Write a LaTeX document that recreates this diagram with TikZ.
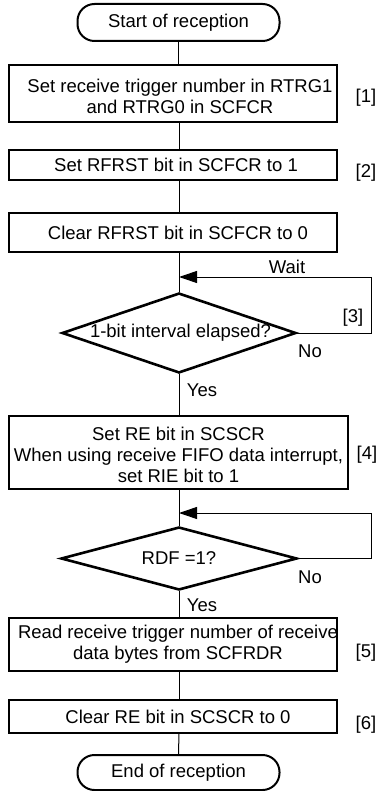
\documentclass[tikz,border=0pt]{standalone}
\usepackage{fontspec}
\setmainfont{Liberation Sans}
\usetikzlibrary{arrows.meta,shapes.geometric}
\begin{document}
\begin{tikzpicture}[x=1pt,y=-1pt,
  font=\fontsize{18.5}{21}\selectfont,
  boxshape/.style={draw,line width=2.7pt,inner sep=0pt,minimum width=328pt},
  term/.style={draw,line width=2pt,rounded corners=17pt,inner sep=0pt,minimum width=202pt},
  dia/.style={draw,line width=2.6pt,diamond,inner sep=0pt,aspect=2.9},
  txt/.style={align=center,inner sep=0pt},
  lbl/.style={inner sep=0pt},
  conn/.style={line width=1pt},
  arr/.style={line width=1pt,-{Triangle[length=18pt,width=12pt]}}]
\useasboundingbox (0,0) rectangle (379,791);
% terminals
\node[term,minimum height=37pt] (start) at (178.5,22.5) {Start of reception};
\node[term,minimum height=35pt] (end) at (178.5,772.5) {End of reception};
% boxes
\node[boxshape,minimum height=57pt] (b1) at (173,93.5) {};
\node[txt] (t1) at (180,96) {Set receive trigger number in RTRG1\\and RTRG0 in SCFCR};
\node[boxshape,minimum height=30pt] (b2) at (173,165) {};
\node[txt] (t2) at (176,165) {Set RFRST bit in SCFCR to 1};
\node[boxshape,minimum height=39pt] (b3) at (173,232.5) {};
\node[txt] (t3) at (178,232.5) {Clear RFRST bit in SCFCR to 0};
\node[boxshape,minimum width=339pt,minimum height=73pt] (b4) at (178.5,452.5) {};
\node[txt] (t4) at (178.5,455) {Set RE bit in SCSCR\\When using receive FIFO data interrupt,\\set RIE bit to 1};
\node[boxshape,minimum height=53pt] (b5) at (173,644.5) {};
\node[txt] (t5) at (178,644.5) {Read receive trigger number of receive\\data bytes from SCFRDR};
\node[boxshape,minimum height=33pt] (b6) at (173,716.5) {};
\node[txt] (t6) at (178,716.5) {Clear RE bit in SCSCR to 0};
% diamonds
\node[dia,minimum width=234pt,minimum height=80pt] (d1) at (179,333) {};
\node[txt] (td1) at (180.5,333) {1-bit interval elapsed?};
\node[dia,minimum width=236pt,minimum height=63pt] (d2) at (179,558.5) {};
\node[txt] (td2) at (179,558.5) {RDF =1?};
% junctions
\coordinate (j1) at (179,277);
\coordinate (r1) at (371,277);
\coordinate (j2) at (179,513);
\coordinate (r2) at (371,513);
% connectors
\draw[conn] (start.south) -- (start.south |- b1.north);
\draw[conn] (179,122) -- (179,150);
\draw[conn] (179,180) -- (179,213);
\draw[conn] (179,252) -- (d1.north);
\draw[conn] (d1.south) -- (179,416);
\draw[conn] (179,489) -- (d2.north);
\draw[conn] (d2.south) -- (179,618);
\draw[conn] (179,671) -- (179,700);
\draw[conn] (179,733) -- (end.north);
\draw[arr] (d1.east) -- (d1.east -| r1) -- (r1) -- (j1);
\draw[arr] (d2.east) -- (d2.east -| r2) -- (r2) -- (j2);
% labels
\node[lbl] (l1) at (366,98) {[1]};
\node[lbl] (l2) at (366,173) {[2]};
\node[lbl] (l3) at (353,318) {[3]};
\node[lbl] (l4) at (367,455) {[4]};
\node[lbl] (l5) at (366,653) {[5]};
\node[lbl] (l6) at (366,725) {[6]};
\node[lbl] (w1) at (287,267) {Wait};
\node[lbl] (n1) at (310,351) {No};
\node[lbl] (n2) at (310,577) {No};
\node[lbl] (y1) at (202,390) {Yes};
\node[lbl] (y2) at (202,605) {Yes};
\end{tikzpicture}
\end{document}
